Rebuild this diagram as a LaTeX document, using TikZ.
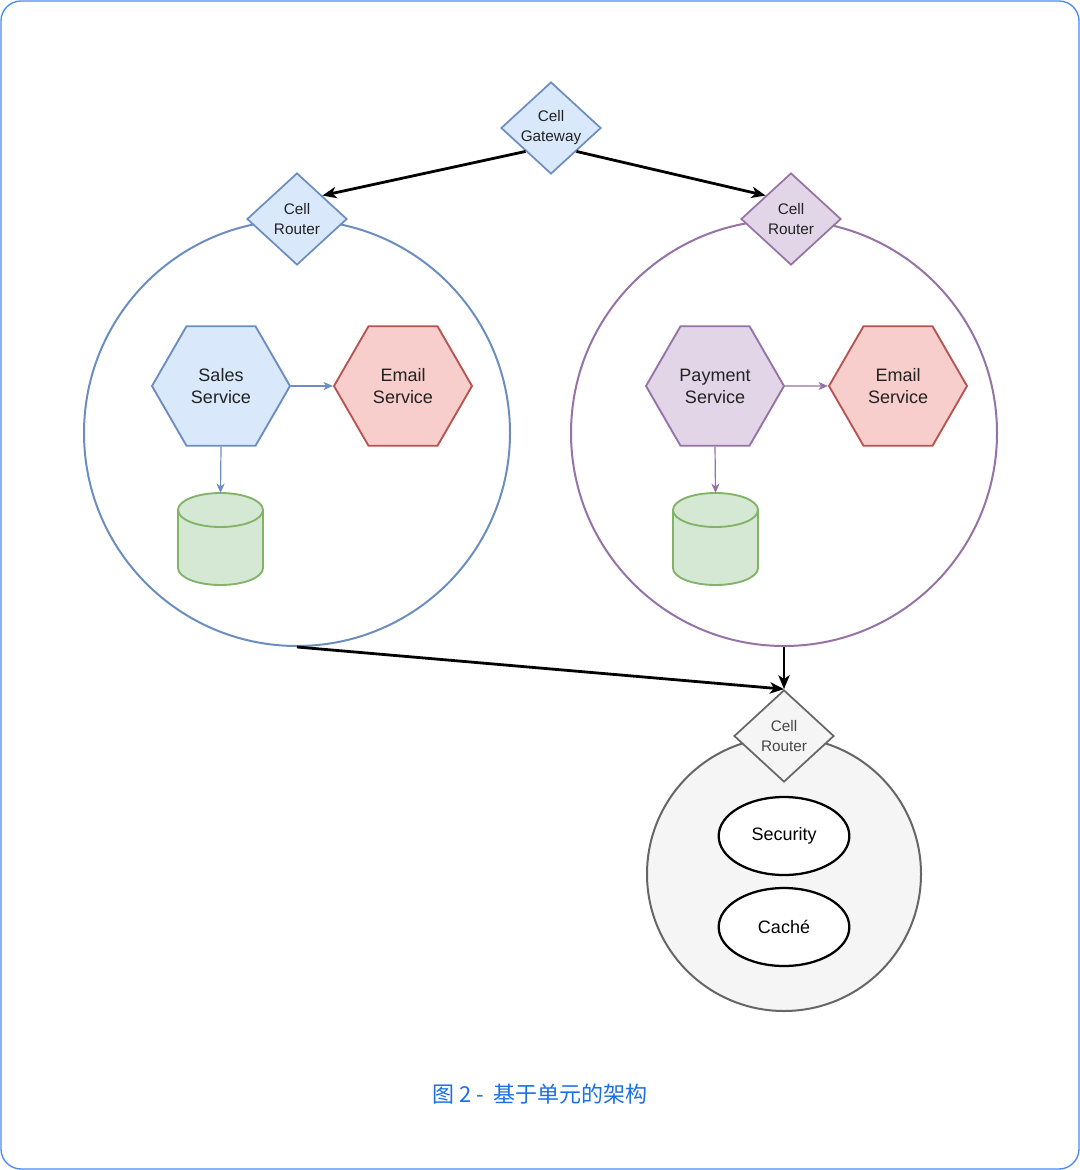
\documentclass[tikz,border=0pt]{standalone}
\usepackage{fontspec}
\setmainfont{Liberation Sans}
\newfontfamily\cjk{Noto Sans CJK SC}
\usetikzlibrary{shapes.geometric,arrows.meta}
\definecolor{bluefill}{HTML}{DAE8FC}
\definecolor{bluedraw}{HTML}{6C8EBF}
\definecolor{redfill}{HTML}{F8CECC}
\definecolor{reddraw}{HTML}{B85450}
\definecolor{purfill}{HTML}{E1D5E7}
\definecolor{purdraw}{HTML}{9673A6}
\definecolor{grnfill}{HTML}{D5E8D4}
\definecolor{grndraw}{HTML}{82B366}
\definecolor{grayfill}{HTML}{F5F5F5}
\definecolor{graydraw}{HTML}{666666}
\definecolor{frame}{HTML}{4A8AF4}
\definecolor{captionblue}{HTML}{1A6FE6}
\definecolor{txt}{HTML}{222222}
\begin{document}
\begin{tikzpicture}[x=0.75pt,y=-0.75pt,
  dia/.style={diamond, inner sep=0pt, minimum width=75pt, minimum height=69pt, line width=1.3pt},
  dialabel/.style={align=center, text=txt, font=\fontsize{11.5}{15}\selectfont},
  hex/.style={regular polygon, regular polygon sides=6, minimum size=103.5pt, inner sep=0pt,
    line width=1.4pt, align=center, text=txt, font=\fontsize{13.5}{16.5}\selectfont},
  cell/.style={circle, minimum size=319.5pt, inner sep=0pt, line width=1.5pt},
  oval/.style={ellipse, minimum width=98pt, minimum height=58.5pt, inner sep=0pt, draw=black,
    fill=white, line width=1.7pt, font=\fontsize{13.5}{16.5}\selectfont},
  thin/.style={line width=0.9pt, -{Stealth[length=7pt,width=6pt,inset=2pt]}},
  bold/.style={line width=2.1pt, draw=black, -{Stealth[length=10.5pt,width=8.5pt,inset=3pt]}},
  cyl/.style={line width=1.4pt, draw=grndraw, fill=grnfill}
]
\useasboundingbox (0,0) rectangle (1080,1170);
\draw[draw=frame, line width=1pt, rounded corners=15pt] (1,1) rectangle (1079,1169);

% cells
\node[cell, draw=bluedraw, fill=white] (lc) at (297,433) {};
\node[cell, draw=purdraw, fill=white] (rc) at (784,433) {};
\node[circle, minimum size=205.5pt, inner sep=0pt, line width=1.5pt, draw=graydraw, fill=grayfill] (bc) at (784,874) {};

% routers and gateway
\node[dia, draw=bluedraw, fill=bluefill, label={[dialabel]center:Cell\\Gateway}] (gw) at (551,128) {};
\node[dia, draw=bluedraw, fill=bluefill, label={[dialabel]center:Cell\\Router}] (lr) at (297,219) {};
\node[dia, draw=purdraw, fill=purfill, label={[dialabel]center:Cell\\Router}] (rr) at (791,219) {};
\node[dia, draw=graydraw, fill=grayfill, label={[dialabel, text=graydraw!70!black]center:Cell\\Router}] (br) at (784,736) {};

% services
\node[hex, draw=bluedraw, fill=bluefill] (sales) at (221,386) {Sales\\Service};
\node[hex, draw=reddraw, fill=redfill] (email1) at (403,386) {Email\\Service};
\node[hex, draw=purdraw, fill=purfill] (pay) at (715,386) {Payment\\Service};
\node[hex, draw=reddraw, fill=redfill] (email2) at (898,386) {Email\\Service};

% databases
\path[cyl] (178,510) -- (178,568) arc[start angle=180, end angle=0, x radius=42.5, y radius=17]
  -- (263,510) arc[start angle=0, end angle=-180, x radius=42.5, y radius=17] -- cycle;
\draw[line width=1.4pt, draw=grndraw] (178,510) arc[start angle=180, end angle=0, x radius=42.5, y radius=17];
\coordinate (db1) at (220.5,493);
\path[cyl] (673,510) -- (673,568) arc[start angle=180, end angle=0, x radius=42.5, y radius=17]
  -- (758,510) arc[start angle=0, end angle=-180, x radius=42.5, y radius=17] -- cycle;
\draw[line width=1.4pt, draw=grndraw] (673,510) arc[start angle=180, end angle=0, x radius=42.5, y radius=17];
\coordinate (db2) at (715.5,493);

% shared cell contents
\node[oval] (sec) at (784,836) {Security};
\node[oval] (cache) at (784,927) {Caché};

% inner connectors
\draw[thin, draw=bluedraw] (sales.east) -- (email1.west);
\draw[thin, draw=bluedraw] (sales.south) -- (db1);
\draw[thin, draw=purdraw] (pay.east) -- (email2.west);
\draw[thin, draw=purdraw] (pay.south) -- (db2);

% main connectors
\draw[bold] (gw.south west) -- (lr.north east);
\draw[bold] (gw.south east) -- (rr.north west);
\draw[bold] (lc.south) -- (br.north);
\draw[bold] (rc.south) -- (br.north);

% caption
\node[text=captionblue, font=\cjk\fontsize{16.5}{20}\selectfont] (cap) at (540,1094) {图 2 -~~基于单元的架构};
\end{tikzpicture}
\end{document}
